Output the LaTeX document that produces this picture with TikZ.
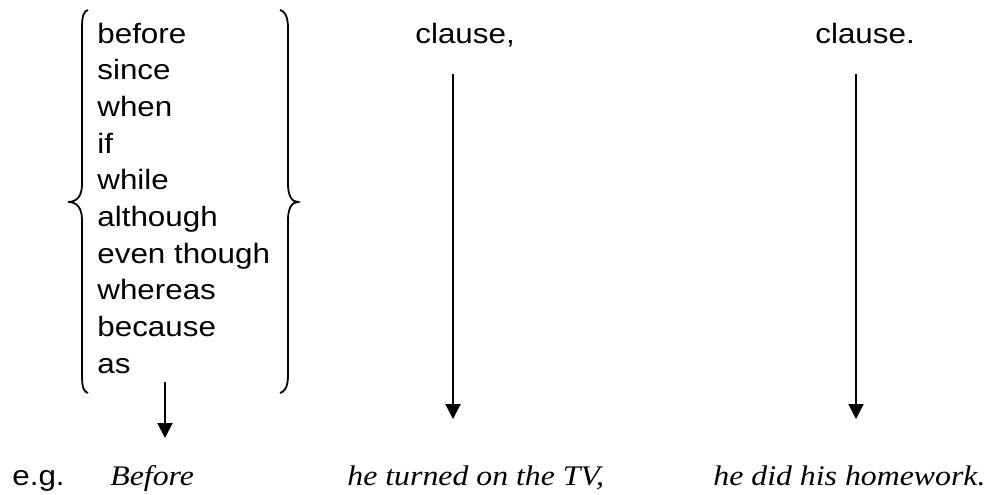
\documentclass[tikz,border=0pt]{standalone}
\usepackage{fontspec}
\setmainfont{Liberation Serif}
\setsansfont[FakeStretch=1.12]{Liberation Sans}
\newfontfamily\exfont[FakeStretch=1.12]{Liberation Serif}
\usetikzlibrary{arrows.meta}

\begin{document}
\begin{tikzpicture}[x=0.5pt, y=-0.5pt,
    word/.style={anchor=base west, inner sep=0pt, font=\sffamily\fontsize{14}{17}\selectfont},
    ex/.style={anchor=base west, inner sep=0pt, font=\exfont\itshape\fontsize{14.2}{17}\selectfont},
    arr/.style={line width=1pt, -{Triangle[length=7.5pt, width=7.5pt]}},
    brc/.style={line width=0.9pt}]
  \useasboundingbox (0,0) rectangle (990,494);
  % list of subordinators
  \foreach \w [count=\i from 0] in {before,since,when,if,while,although,even though,whereas,because,as}
    \node[word] (w\i) at (97,43+36.7*\i) {\w};
  % braces
  \draw[brc] (88,10) .. controls (84,11) and (82,15) .. (82,28) -- (82,184)
    .. controls (82,196) and (77,202) .. (68,202) .. controls (77,202) and (82,208) .. (82,220)
    -- (82,375) .. controls (82,388) and (84,392) .. (88,393);
  \draw[brc] (280,10) .. controls (284,11) and (288,15) .. (288,28) -- (288,184)
    .. controls (288,196) and (292,202) .. (298,202) .. controls (292,202) and (288,208) .. (288,220)
    -- (288,375) .. controls (288,388) and (284,392) .. (280,393);
  % clause labels
  \node[word] (cl1) at (415,43) {clause,};
  \node[word] (cl2) at (815,43) {clause.};
  % example sentence
  \node[word] (eg) at (12,485) {e.g.};
  \node[ex] (ex1) at (110,485) {Before};
  \node[ex] (ex2) at (347,485) {he turned on the TV,};
  \node[ex] (ex3) at (713,485) {he did his homework.};
  % arrows
  \coordinate (s0) at (165,382); \coordinate (t0) at (165,438);
  \coordinate (s1) at (453,74);  \coordinate (t1) at (453,419);
  \coordinate (s2) at (856,74);  \coordinate (t2) at (856,419);
  \draw[arr] (s0) -- (t0);
  \draw[arr] (s1) -- (t1);
  \draw[arr] (s2) -- (t2);
\end{tikzpicture}
\end{document}
